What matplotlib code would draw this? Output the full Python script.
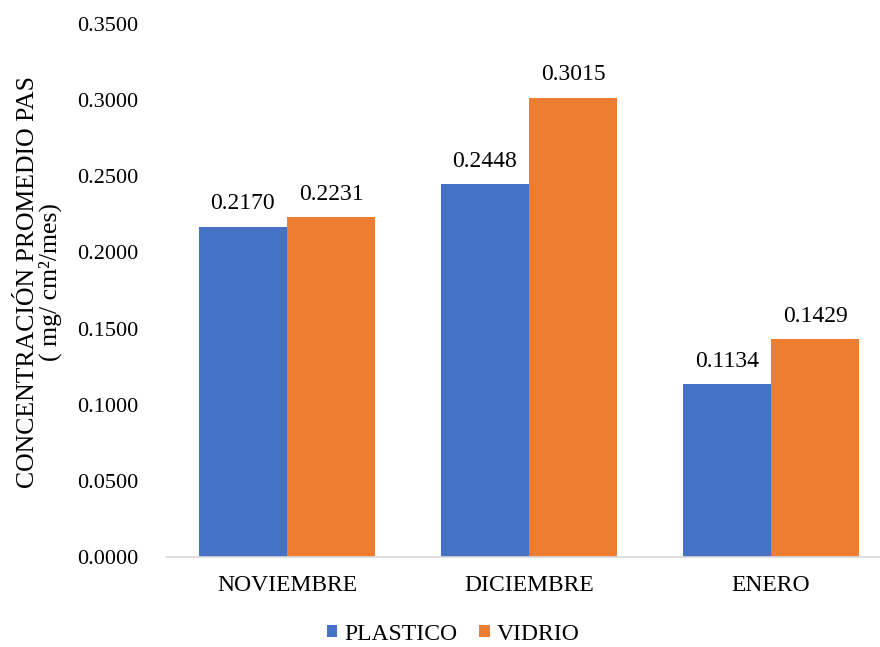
import numpy as np
import matplotlib.pyplot as plt

# data
months = ['NOVIEMBRE', 'DICIEMBRE', 'ENERO']
plastico = [0.2170, 0.2448, 0.1134]
vidrio = [0.2231, 0.3015, 0.1429]
yticks = [0.0, 0.05, 0.10, 0.15, 0.20, 0.25, 0.30, 0.35]

plt.rcParams['font.family'] = ['Liberation Serif', 'DejaVu Serif']

fig = plt.figure(figsize=(8.8, 6.47), dpi=100)
# axes run a little past the right edge, as in the original
ax = fig.add_axes([0.1886, 0.139, 0.825, 0.824])

x = np.arange(len(months))
w = 0.364
b1 = ax.bar(x - w / 2, plastico, w, color='#4472C4', label='PLASTICO')
b2 = ax.bar(x + w / 2, vidrio, w, color='#ED7D31', label='VIDRIO')

for bars in (b1, b2):
    ax.bar_label(bars, labels=[f'{v:.4f}' for v in bars.datavalues],
                 padding=9, fontsize=17)

ax.set_xlim(-0.5, 2.5)
ax.set_ylim(0, 0.35)
ax.set_yticks(yticks)
ax.set_yticklabels([f'{t:.4f}' for t in yticks])
ax.set_xticks(x)
ax.set_xticklabels(months)
ax.tick_params(axis='both', length=0, colors='#000000')
ax.tick_params(axis='y', labelsize=16, pad=20)
ax.tick_params(axis='x', labelsize=17, pad=13)

for s in ['top', 'right', 'left']:
    ax.spines[s].set_visible(False)
ax.spines['bottom'].set_color('#d9d9d9')
ax.spines['bottom'].set_linewidth(1.2)

ax.set_ylabel('CONCENTRACIÓN PROMEDIO PAS\n( mg/ cm²/mes)', fontsize=18.5,
              linespacing=0.95, va='center')
ax.yaxis.set_label_coords(-0.174, 0.516)

fig.legend(loc='center', bbox_to_anchor=(0.515, 0.02), ncol=2, frameon=False,
           fontsize=17, handlelength=0.45, handleheight=0.45, handletextpad=0.3,
           columnspacing=0.9)

plt.savefig('out.png', dpi=100)
